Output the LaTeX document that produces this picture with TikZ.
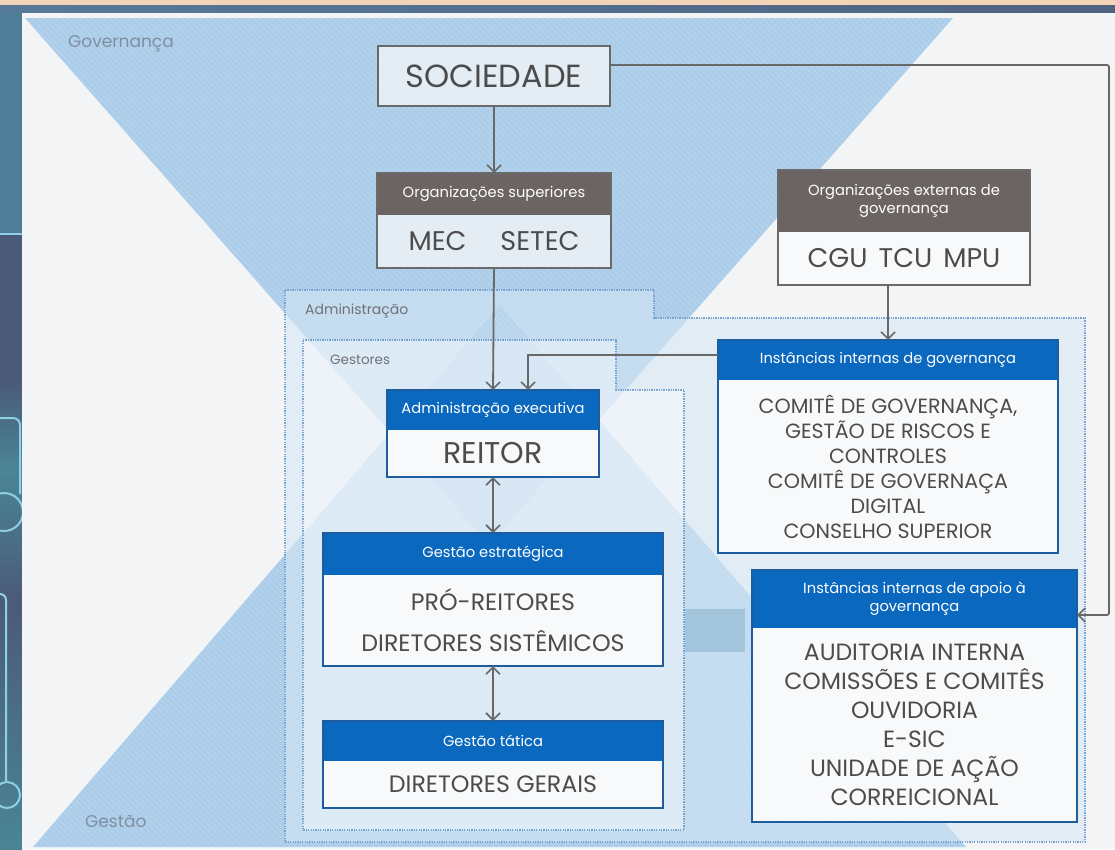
\documentclass[tikz,border=0pt]{standalone}
\usepackage{fontspec}
\setmainfont{Poppins}
\usetikzlibrary{arrows.meta,positioning,calc,patterns.meta}
\definecolor{triblue}{HTML}{ABCDEA}
\definecolor{diablue}{HTML}{8FBBE3}
\definecolor{hdrblue}{HTML}{0B68BF}
\definecolor{bdrblue}{HTML}{1D5D9E}
\definecolor{hdrgray}{HTML}{6B6462}
\definecolor{frgray}{HTML}{6A6A6A}
\definecolor{txtgray}{HTML}{4C4C4C}
\definecolor{lblblue}{HTML}{7F8FA2}
\definecolor{lblgray}{HTML}{6E7276}
\definecolor{lnkgray}{HTML}{686868}
\definecolor{dotblue}{HTML}{78A4CF}
\definecolor{panelc}{HTML}{F3F4F5}
\definecolor{admfill}{HTML}{D6E7F5}
\definecolor{softbody}{HTML}{E5EDF4}
\definecolor{whitebody}{HTML}{F8F9FA}
\definecolor{patchc}{HTML}{A3C5DC}
\definecolor{peach}{HTML}{F2D4B6}
\definecolor{bandA}{HTML}{56799A}
\definecolor{bandB}{HTML}{4F6282}
\definecolor{stripA}{HTML}{4F7D98}
\definecolor{stripB}{HTML}{4B5A78}
\definecolor{stripT}{HTML}{4A8596}
\definecolor{cyanl}{HTML}{8FD0E4}
\newcommand\fsz[2]{\fontsize{#1}{#2}\selectfont}
\tikzset{
  hdr/.style={fill=#1, text=white, font=\fsz{14.7}{18}, align=center, inner sep=0pt, outer sep=0pt},
  bdy/.style={fill=#1, text=txtgray, align=center, inner sep=0pt, outer sep=0pt},
  gframe/.style={draw=frgray, line width=1.8pt},
  bframe/.style={draw=bdrblue, line width=1.8pt},
  link/.style={draw=lnkgray, line width=1.8pt, -{Straight Barb[length=7pt,width=14pt,line width=1.6pt]}},
  dlink/.style={draw=lnkgray, line width=1.8pt, {Straight Barb[length=7pt,width=14pt,line width=1.6pt]}-{Straight Barb[length=7pt,width=14pt,line width=1.6pt]}},
  dotline/.style={draw=dotblue, line width=1.1pt, dash pattern=on 1.3pt off 1.1pt},
  zlabel/.style={anchor=west, inner sep=0pt},
  cyanline/.style={draw=cyanl, line width=2pt},
}
\begin{document}
\begin{tikzpicture}[x=1pt,y=-1pt]
\useasboundingbox (0,0) rectangle (1115,849);
% ---------- frame / background ----------
\fill[stripB] (0,0) rectangle (1115,849);
\fill[peach] (0,0) rectangle (1115,5);
\shade[left color=bandA, right color=bandB] (0,5) rectangle (1115,13);
\fill[stripA] (0,13) rectangle (22,234);
\shade[top color=stripB, bottom color=stripT] (0,380) rectangle (22,470);
\shade[top color=stripT, bottom color=stripB] (0,470) rectangle (22,600);
\shade[top color=stripB, bottom color=stripT] (0,600) rectangle (22,849);
\begin{scope}
  \clip (0,13) rectangle (22,849);
  \draw[cyanline] (0,234) -- (22,234);
  \draw[cyanline, rounded corners=7pt] (0,418) -- (20,418) -- (20,494);
  \draw[cyanline] (4,512) circle[radius=19pt];
  \draw[cyanline, rounded corners=6pt] (0,594) -- (6,594) -- (6,781);
  \draw[cyanline] (7,795) circle[radius=13pt];
\end{scope}
% ---------- panel ----------
\fill[panelc] (22,13) rectangle (1115,849);
\fill[triblue] (25,18) -- (953,18) -- (489,545) -- cycle;
\fill[triblue] (33,847) -- (966,847) -- (500,305) -- cycle;
\begin{scope}
  \clip (25,18) -- (953,18) -- (489,545) -- cycle;
  \fill[diablue] (33,847) -- (966,847) -- (500,305) -- cycle;
\end{scope}
\fill[pattern={Lines[angle=-45,distance=4pt,line width=0.9pt]}, pattern color=white, fill opacity=0.18] (22,13) rectangle (1115,849);
% ---------- zones ----------
\path[fill=admfill, fill opacity=0.6] (285,290) -- (654,290) -- (654,318) -- (1085,318) -- (1085,842) -- (285,842) -- cycle;
\path[fill=white, fill opacity=0.42] (303,340) -- (616,340) -- (616,390) -- (684,390) -- (684,830) -- (303,830) -- cycle;
\draw[dotline] (285,290) -- (654,290) -- (654,318) -- (1085,318) -- (1085,842) -- (285,842) -- cycle;
\draw[dotline] (303,340) -- (616,340) -- (616,390) -- (684,390) -- (684,830) -- (303,830) -- cycle;
\fill[patchc] (685,609) rectangle (745,652);
\node[zlabel, text=lblblue, font=\fsz{17}{20}] (lgov) at (68,44) {Governança};
\node[zlabel, text=lblblue, font=\fsz{17}{20}] (lgst) at (85,822) {Gestão};
\node[zlabel, text=lblgray, font=\fsz{14}{16}] (ladm) at (305,311) {Administração};
\node[zlabel, text=lblgray, font=\fsz{13.5}{16}] (lges) at (330,360) {Gestores};
% ---------- boxes ----------
\node[bdy=softbody, draw=frgray, line width=1.8pt, minimum width=232pt, minimum height=60pt, font=\fsz{32}{34}] (soc) at (494,76) {SOCIEDADE};

\node[hdr=hdrgray, minimum width=234pt, minimum height=42pt] (os-h) at (494,194) {Organizações superiores};
\node[bdy=softbody, minimum width=234pt, minimum height=53pt, font=\fsz{27}{30}, below=0pt of os-h] (os-b) {MEC\hspace{34pt}SETEC};
\draw[gframe] (os-h.north west) rectangle (os-b.south east);

\node[hdr=hdrgray, minimum width=252pt, minimum height=62pt] (oe-h) at (904,201) {Organizações externas de\\governança};
\node[bdy=whitebody, minimum width=252pt, minimum height=53pt, font=\fsz{27}{30}, below=0pt of oe-h] (oe-b) {CGU\hspace{11pt}TCU\hspace{11pt}MPU};
\draw[gframe] (oe-h.north west) rectangle (oe-b.south east);

\node[hdr=hdrblue, minimum width=340pt, minimum height=40pt] (iig-h) at (888,360) {Instâncias internas de governança};
\node[bdy=whitebody, minimum width=340pt, minimum height=173pt, font=\fsz{20.6}{25}, below=0pt of iig-h] (iig-b) {COMITÊ DE GOVERNANÇA,\\GESTÃO DE RISCOS E\\CONTROLES\\COMITÊ DE GOVERNAÇA\\DIGITAL\\CONSELHO SUPERIOR};
\draw[bframe] (iig-h.north west) rectangle (iig-b.south east);

\node[hdr=hdrblue, minimum width=325pt, minimum height=58pt] (iia-h) at (914.5,599) {Instâncias internas de apoio à\\governança};
\node[bdy=whitebody, minimum width=325pt, minimum height=194pt, font=\fsz{23.5}{29}, below=0pt of iia-h] (iia-b) {AUDITORIA INTERNA\\COMISSÕES E COMITÊS\\OUVIDORIA\\E-SIC\\UNIDADE DE AÇÃO\\CORREICIONAL};
\draw[bframe] (iia-h.north west) rectangle (iia-b.south east);

\node[hdr=hdrblue, minimum width=212pt, minimum height=40pt] (rei-h) at (493,410) {Administração executiva};
\node[bdy=whitebody, minimum width=212pt, minimum height=47pt, font=\fsz{30}{32}, below=0pt of rei-h] (rei-b) {REITOR};
\draw[bframe] (rei-h.north west) rectangle (rei-b.south east);

\node[hdr=hdrblue, minimum width=340pt, minimum height=42pt] (ge-h) at (493,554) {Gestão estratégica};
\node[bdy=whitebody, minimum width=340pt, minimum height=91pt, font=\fsz{23.7}{41}, below=0pt of ge-h] (ge-b) {PRÓ-REITORES\\DIRETORES SISTÊMICOS};
\draw[bframe] (ge-h.north west) rectangle (ge-b.south east);

\node[hdr=hdrblue, minimum width=340pt, minimum height=40pt] (gt-h) at (493,741) {Gestão tática};
\node[bdy=whitebody, minimum width=340pt, minimum height=47pt, font=\fsz{23.7}{26}, below=0pt of gt-h] (gt-b) {DIRETORES GERAIS};
\draw[bframe] (gt-h.north west) rectangle (gt-b.south east);
% ---------- connectors ----------
\coordinate (cR) at (1109,65);
\draw[link] (soc.south) -- (os-h.north);
\draw[link] (os-b.south) -- (rei-h.north);
\draw[link] ([yshift=5pt]iig-h.west) -| ([xshift=35pt]rei-h.north);
\draw[link] (oe-b.south -| iig-h.north) -- (iig-h.north);
\draw[link, rounded corners=2pt] ([yshift=11pt]soc.east) -- (cR) |- ([yshift=-16pt]iia-h.east);
\draw[dlink] (rei-b.south) -- (ge-h.north);
\draw[dlink] (ge-b.south) -- (gt-h.north);
\end{tikzpicture}
\end{document}
